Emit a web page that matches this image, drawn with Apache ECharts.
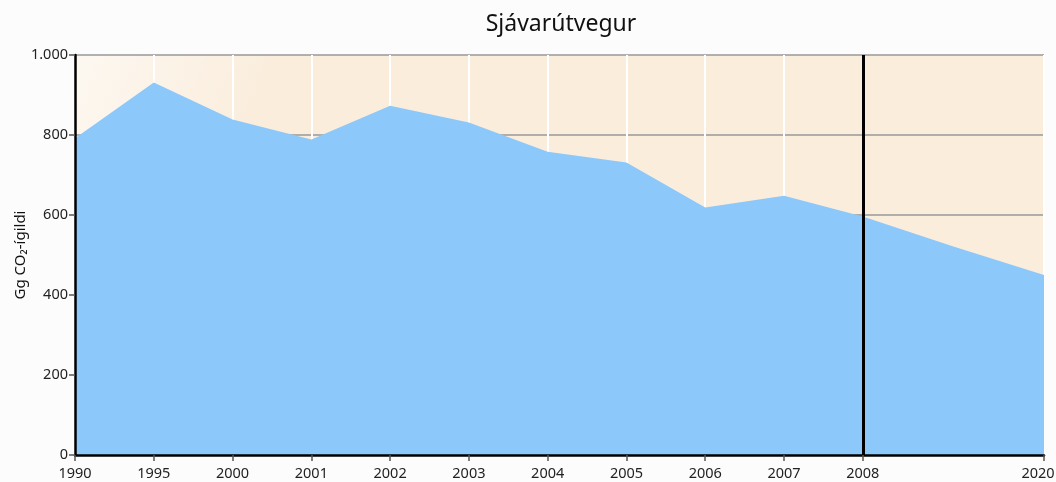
<!DOCTYPE html>
<html>
<head>
<meta charset="utf-8">
<script src="https://cdn.jsdelivr.net/npm/echarts@6/dist/echarts.min.js"></script>
<style>
  html, body { margin: 0; padding: 0; background: #fcfcfc; }
  #chart { width: 1056px; height: 482px; }
</style>
</head>
<body>
<div id="chart"></div>
<script>
// years with data, emissions in Gg CO2-equivalent
var years = [1990, 1995, 2000, 2001, 2002, 2003, 2004, 2005, 2006, 2007, 2008, 2014, 2020];
var values = [792, 931, 839, 789, 873, 831, 758, 731, 619, 648, 596, 521, 450];
// labelled ticks on the x axis
var tickYears = [1990, 1995, 2000, 2001, 2002, 2003, 2004, 2005, 2006, 2007, 2008, 2020];
var markYear = 2008;

// up to 2008 the axis is one slot per listed year, after that it runs linearly to 2020
var slotYears = tickYears.slice(0, 11);
var pastStep = 2.3 / 12;
function xPos(y) {
  var i = slotYears.indexOf(y);
  if (i >= 0) return i;
  return slotYears.length - 1 + (y - 2008) * pastStep;
}
function yearAt(v) {
  for (var k = 0; k < tickYears.length; k++) {
    if (Math.abs(xPos(tickYears[k]) - v) < 1e-6) return tickYears[k];
  }
  return '';
}

var seriesData = years.map(function (y, i) { return [xPos(y), values[i]]; });
var tickPos = tickYears.map(xPos);
var lastYear = tickYears[tickYears.length - 1];
var labelFont = { fontFamily: 'Noto Sans', fontSize: 14.5, color: '#222' };

var myChart = echarts.init(document.getElementById('chart'));
myChart.setOption({
  backgroundColor: '#fcfcfc',
  animation: false,
  title: {
    text: 'Sjávarútvegur',
    left: 556,
    top: 8,
    textAlign: 'center',
    textStyle: { fontFamily: 'Noto Sans', fontSize: 23, fontWeight: 'normal', color: '#111' }
  },
  grid: {
    left: 75, right: 12, top: 55, bottom: 27,
    outerBoundsMode: 'none',
    containLabel: false,
    show: true,
    borderWidth: 0,
    backgroundColor: new echarts.graphic.LinearGradient(0, 0, 0.6, 0.6, [
      { offset: 0, color: '#fdf8f1' },
      { offset: 0.3, color: '#faeddc' },
      { offset: 1, color: '#fbeddc' }
    ])
  },
  xAxis: [{
    // drawn axis line, ticks, labels (on top of the area)
    type: 'value',
    min: 0,
    max: xPos(2020),
    z: 5,
    axisLine: { show: true, onZero: false, lineStyle: { color: '#000', width: 2.5 } },
    axisTick: { show: true, length: 6, customValues: tickPos, lineStyle: { color: '#555', width: 1.5 } },
    axisLabel: Object.assign({
      customValues: tickPos,
      formatter: function (v) {
        var y = yearAt(v);
        return y === lastYear ? '{e|' + y + '}' : String(y);
      },
      rich: { e: Object.assign({ padding: [0, 12, 0, 0] }, labelFont) },
      margin: 11
    }, labelFont),
    splitLine: { show: false }
  }, {
    // white vertical grid lines (under the area)
    type: 'value',
    position: 'bottom',
    min: 0,
    max: xPos(2020),
    axisLine: { show: false },
    axisTick: { show: false, customValues: tickPos },
    axisLabel: { show: false },
    splitLine: { show: true, lineStyle: { color: '#ffffff', width: 2 } }
  }],
  yAxis: [{
    type: 'value',
    min: 0, max: 1000, interval: 200,
    z: 5,
    name: 'Gg CO₂-ígildi',
    nameLocation: 'middle',
    nameGap: 47,
    nameMoveOverlap: false,
    nameTextStyle: { fontFamily: 'Noto Sans', fontSize: 15, color: '#111' },
    axisLine: { show: true, lineStyle: { color: '#000', width: 2.5 } },
    axisTick: { show: true, length: 6, lineStyle: { color: '#555', width: 1.5 } },
    axisLabel: Object.assign({
      formatter: function (v) { return v >= 1000 ? (v / 1000) + '.' + String(v % 1000).padStart(3, '0') : String(v); },
      margin: 7
    }, labelFont),
    splitLine: { show: false }
  }, {
    type: 'value',
    position: 'left',
    min: 0, max: 1000, interval: 200,
    axisLine: { show: false },
    axisTick: { show: false },
    axisLabel: { show: false },
    splitLine: { show: true, lineStyle: { color: '#999', width: 1.5 } }
  }],
  series: [{
    type: 'line',
    data: seriesData,
    symbol: 'none',
    lineStyle: { width: 0 },
    areaStyle: { color: '#8dc8fb', opacity: 1 },
    markLine: {
      silent: true,
      symbol: 'none',
      label: { show: false },
      lineStyle: { color: '#000', width: 3, type: 'solid' },
      data: [{ xAxis: xPos(markYear) }]
    }
  }]
});
</script>
</body>
</html>
